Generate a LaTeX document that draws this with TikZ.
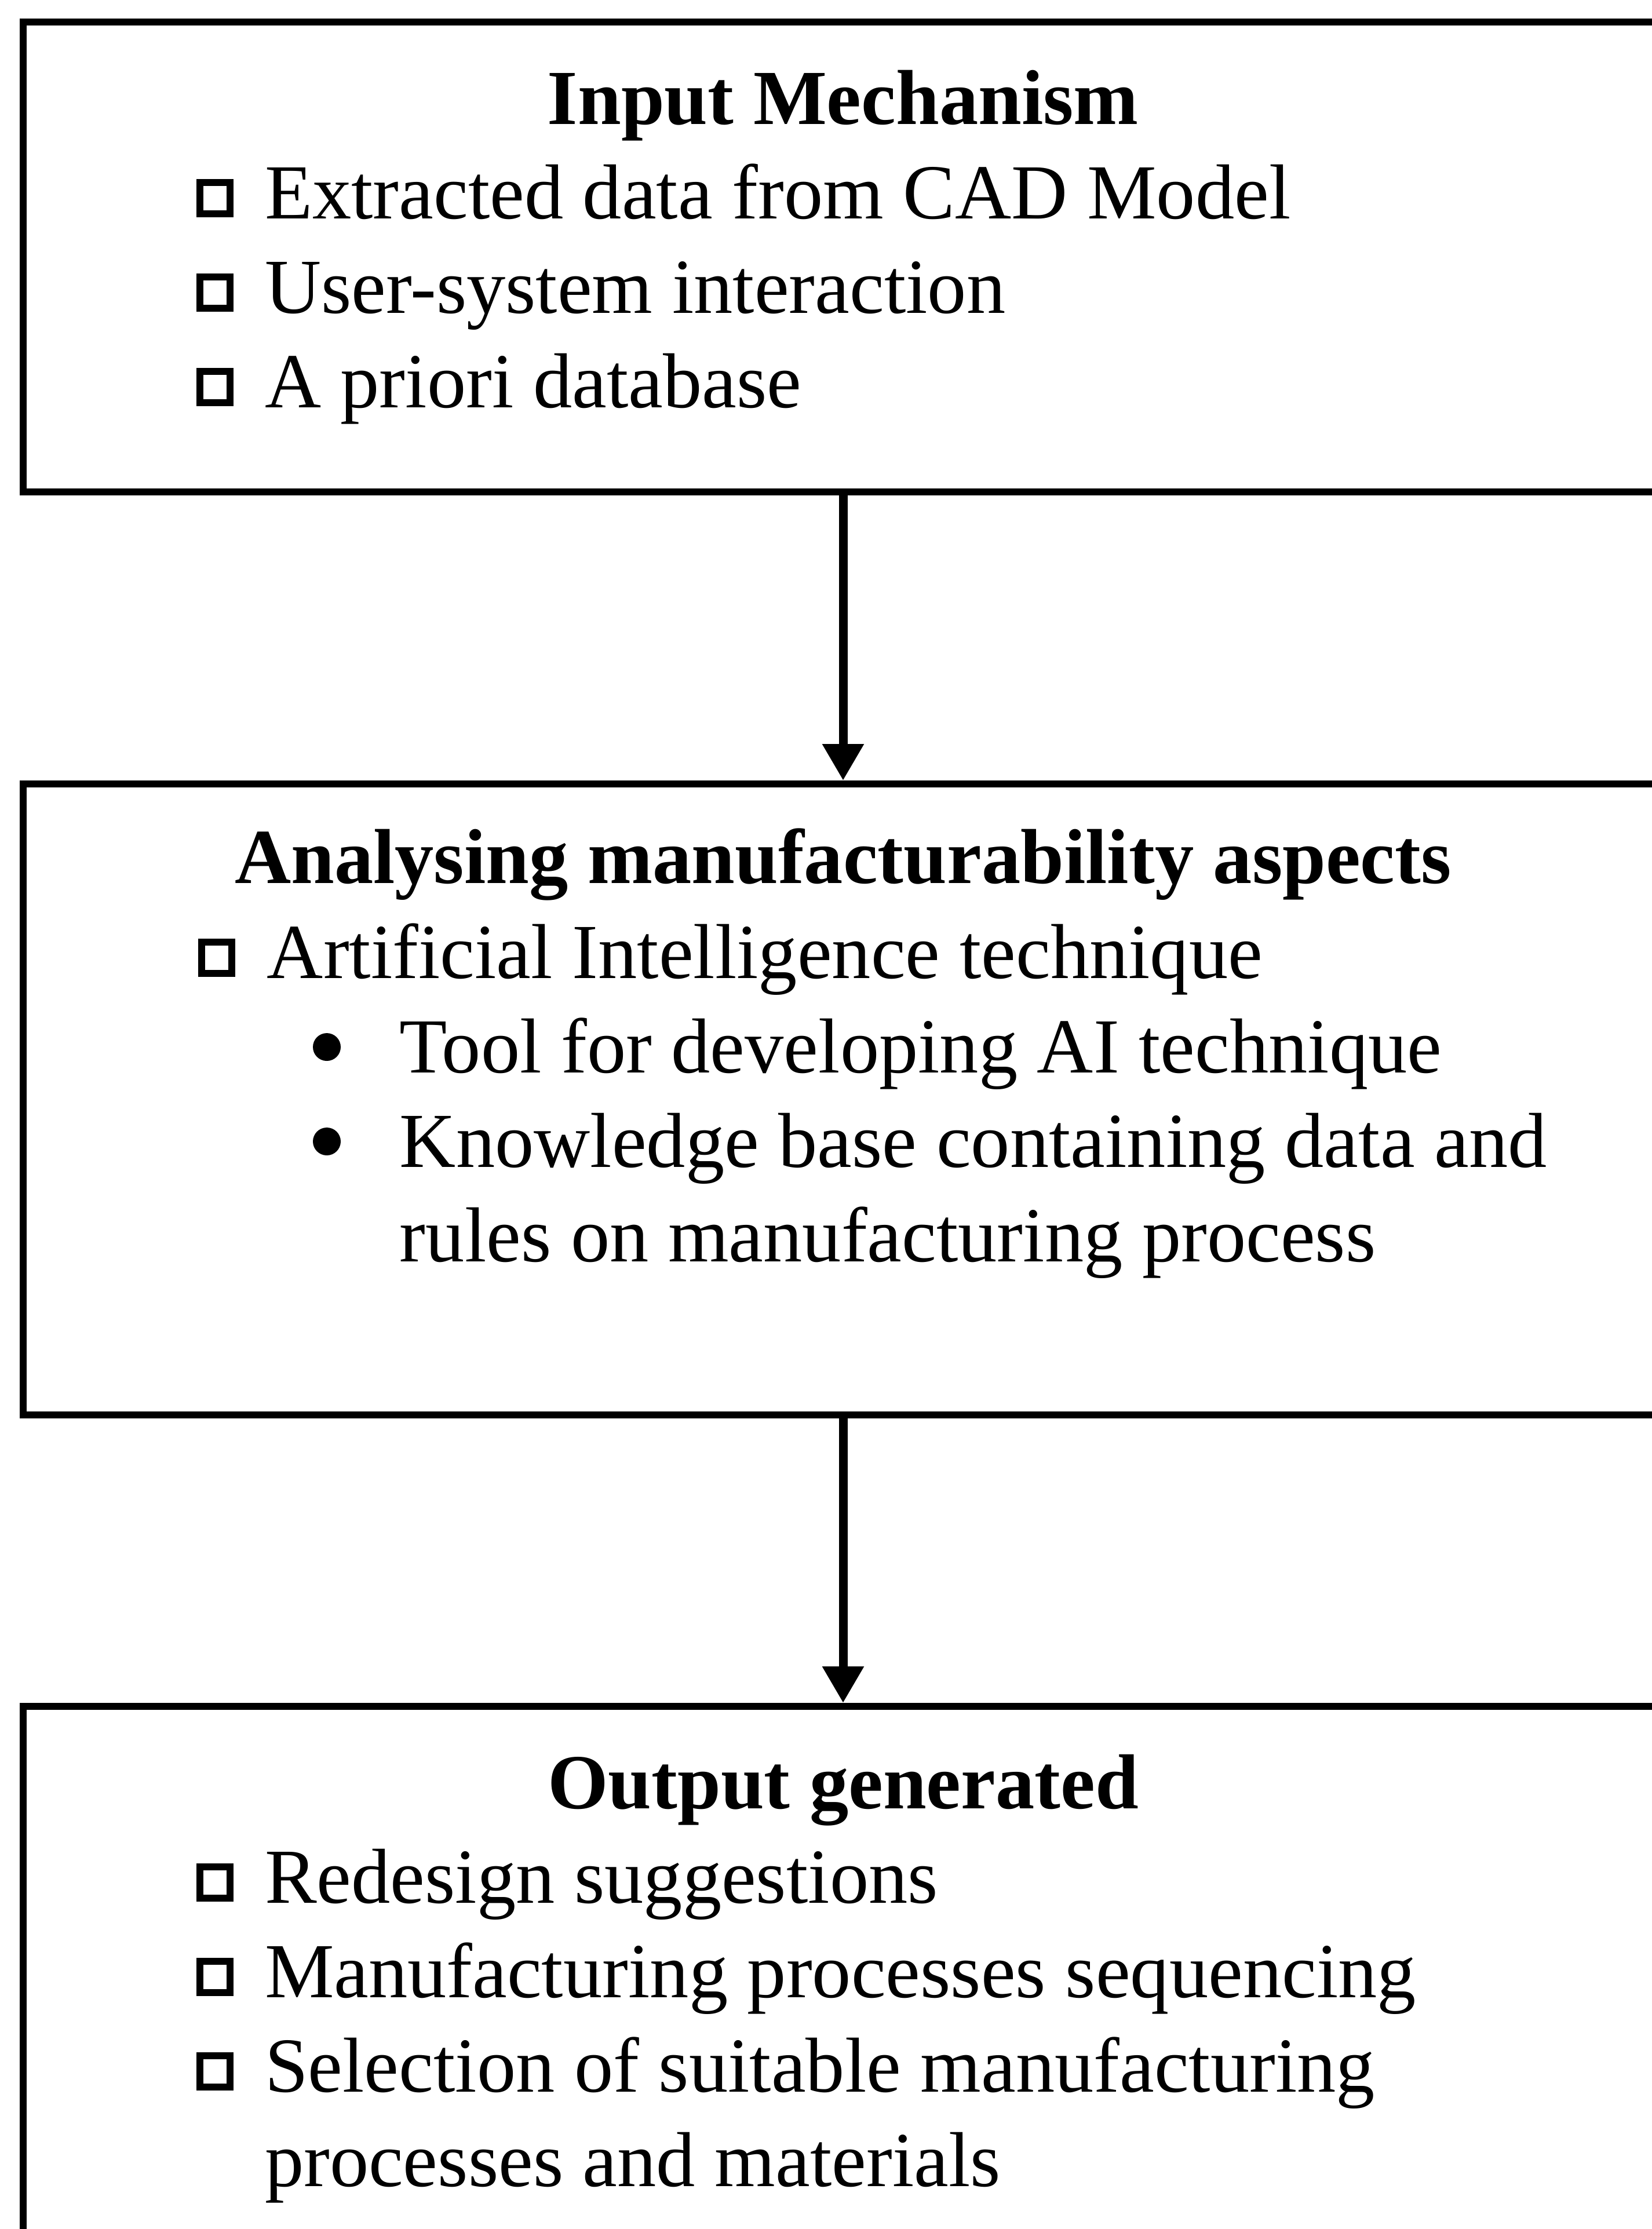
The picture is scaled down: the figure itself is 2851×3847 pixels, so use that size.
\documentclass[tikz,border=0pt]{standalone}
\usepackage{fontspec}
\setmainfont{Liberation Serif}
\usetikzlibrary{arrows.meta}

\begin{document}
\begin{tikzpicture}[x=0.1pt,y=-0.1pt,
	box/.style={draw,line width=1.2pt,minimum width=283pt,inner sep=0pt},
	head/.style={anchor=base,inner sep=0pt,font=\fontsize{13.45}{16}\selectfont\bfseries},
	item/.style={anchor=base west,inner sep=0pt,font=\fontsize{13.45}{16}\selectfont},
	sqbullet/.style={line width=1.25pt},
	arr/.style={-{Triangle[length=6.3pt,width=6.8pt]},line width=1.5pt}]
	\useasboundingbox (0,0) rectangle (2851,3847);
	\clip (0,0) rectangle (2851,3847);

	\node[box,minimum height=81.1pt] (inbox) at (1455,443.5) {};
	\node[box,minimum height=108.9pt] (anabox) at (1455,1897.5) {};
	\node[box,minimum height=100.5pt] (outbox) at (1455,3447.5) {};

	\draw[arr] (inbox) -- (anabox);
	\draw[arr] (anabox) -- (outbox);

	\node[head] (inhead) at (1455,214) {Input Mechanism};
	\draw[sqbullet] (345,315) rectangle (397,369);
	\node[item] (in1) at (455,377) {Extracted data from CAD Model};
	\draw[sqbullet] (345,478) rectangle (397,532);
	\node[item] (in2) at (455,540) {User-system interaction};
	\draw[sqbullet] (345,641) rectangle (397,695);
	\node[item] (in3) at (455,703) {A priori database};

	\node[head] (anahead) at (1455,1524) {Analysing manufacturability aspects};
	\draw[sqbullet] (348,1626) rectangle (400,1680);
	\node[item] (ana1) at (459,1688) {Artificial Intelligence technique};
	\fill (564,1807) circle [radius=2.4pt];
	\node[item] (ana2) at (688,1851) {Tool for developing AI technique};
	\fill (564,1970) circle [radius=2.4pt];
	\node[item] (ana3) at (688,2014) {Knowledge base containing data and};
	\node[item] (ana4) at (688,2177) {rules on manufacturing process};

	\node[head] (outhead) at (1455,3121) {Output generated};
	\draw[sqbullet] (345,3222) rectangle (397,3276);
	\node[item] (out1) at (455,3284) {Redesign suggestions};
	\draw[sqbullet] (345,3385) rectangle (397,3439);
	\node[item] (out2) at (455,3447) {Manufacturing processes sequencing};
	\draw[sqbullet] (345,3548) rectangle (397,3602);
	\node[item] (out3) at (455,3610) {Selection of suitable manufacturing};
	\node[item] (out4) at (455,3773) {processes and materials};
\end{tikzpicture}
\end{document}
